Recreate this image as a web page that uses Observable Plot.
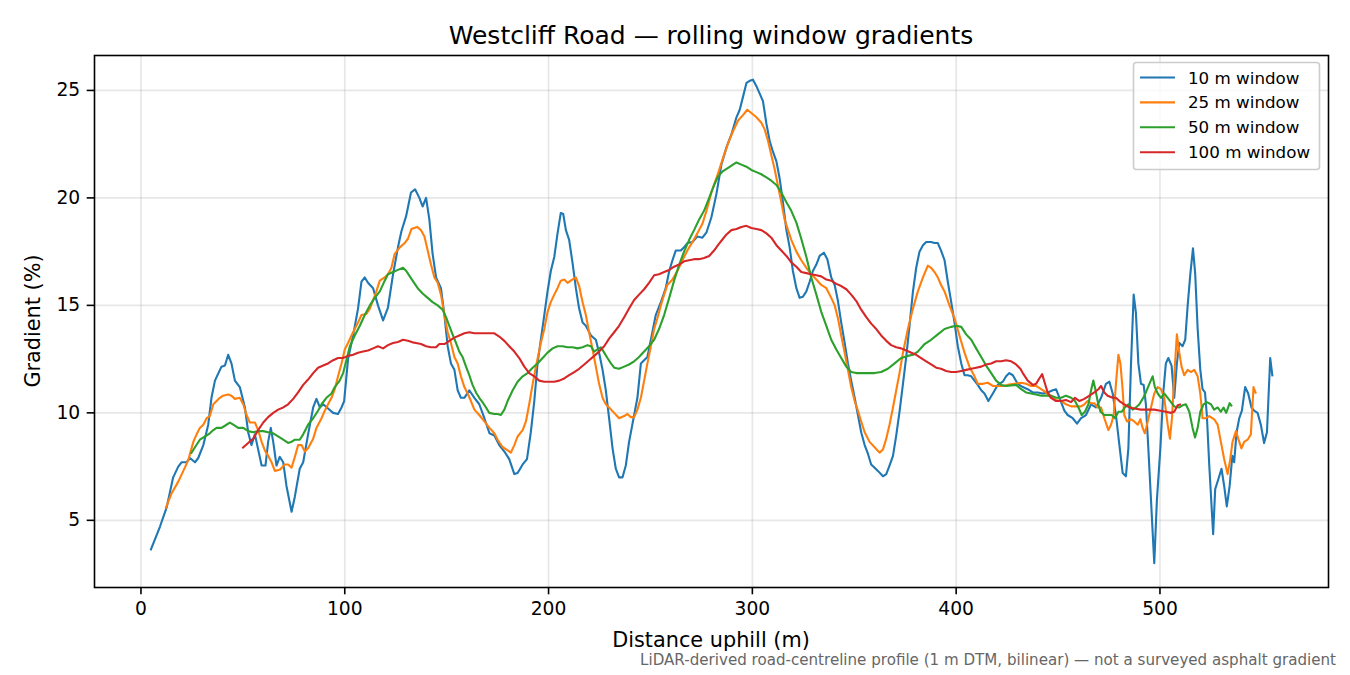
<!DOCTYPE html>
<html>
<head>
<meta charset="utf-8">
<script src="https://cdn.jsdelivr.net/npm/d3@7"></script>
<script src="https://cdn.jsdelivr.net/npm/@observablehq/plot@0.6"></script>
<style>
  body { margin: 0; background: #ffffff; }
  #chart { position: relative; width: 1350px; height: 675px; }
</style>
</head>
<body>
<div id="chart"></div>
<script>
// ---- data: [distance uphill (m), gradient (%)] ----
const win10 = [[4.7,3.6],[9.3,4.7],[12.6,5.6],[15.8,7.0],[18.3,7.5],[19.9,7.7],[22.4,7.7],[24,7.9],[26.5,7.7],[28.1,7.9],[30.6,8.5],[33,9.45],[34.6,10.7],[36.3,11.5],[39.5,12.15],[41.2,12.2],[42.8,12.7],[44.4,12.3],[46.1,11.5],[48.5,11.2],[51,10.25],[52.6,9.1],[54.2,8.5],[55.9,9.0],[57.5,8.3],[59.2,7.55],[61.1,7.55],[62.4,8.65],[63.7,9.3],[64.9,8.65],[66.5,7.55],[68.1,7.95],[69.8,7.7],[71.4,6.6],[73.9,5.4],[75.5,6.1],[77.9,7.4],[79.6,7.7],[82,9.0],[84.5,10.25],[86.1,10.65],[87.8,10.25],[89.4,10.4],[91.8,10.2],[94.3,10.0],[96.7,9.95],[98.4,10.25],[99.7,10.55],[101.6,12.5],[104.1,13.6],[106.5,14.85],[108.2,16.1],[109.8,16.3],[111.4,16.05],[113.9,15.8],[116.3,15.0],[118.8,14.3],[121.2,14.9],[123.7,16.45],[126.1,17.7],[127.8,18.45],[130.1,19.15],[132.5,20.25],[134.5,20.4],[136.6,20.0],[138.2,19.6],[139.9,20.0],[141.5,19.0],[143.1,17.4],[144.8,16.3],[147.2,15.8],[148.9,14.55],[150.5,13.1],[152.1,12.3],[153.8,12.0],[155.4,11.05],[157,10.7],[158.7,10.7],[161.1,11.05],[163.6,10.7],[166,10.4],[168.5,9.75],[171,9.05],[173.4,8.95],[175.8,8.5],[178.3,8.2],[180.7,7.85],[183.2,7.15],[184.8,7.2],[187.3,7.6],[189.4,7.85],[191.3,9.1],[193,10.55],[194.6,12.3],[196.2,13.4],[197.9,14.55],[199.5,15.65],[201.1,16.6],[202.8,17.25],[204.4,18.35],[206,19.3],[207.2,19.25],[208.5,18.5],[210.1,18.05],[211.8,16.95],[213.4,15.8],[215,14.85],[216.7,14.2],[218.3,14.05],[220.8,13.6],[223.2,13.4],[224.8,12.8],[226.5,12.0],[228.1,11.05],[229.7,9.75],[231.4,8.35],[233,7.4],[234.6,7.0],[236.3,7.0],[237.9,7.55],[239.5,8.65],[242,9.9],[243.6,10.7],[245.3,12.3],[246.9,12.45],[248.5,12.6],[250.2,13.4],[252.6,14.55],[255.1,15.15],[257.5,15.8],[259.2,16.6],[260.8,17.1],[262.4,17.55],[264.9,17.55],[266.5,17.7],[268.1,17.9],[270.6,17.95],[273,18.2],[275.5,18.15],[277.5,18.4],[279.9,19.1],[282.4,20.2],[284.8,21.55],[287.3,22.35],[289.7,22.95],[292.2,23.75],[293.8,24.1],[295.4,24.7],[297.1,25.35],[298.7,25.45],[300.3,25.5],[302,25.2],[303.6,24.85],[305.2,24.5],[306.9,23.45],[308.5,22.65],[310.1,22.15],[311.8,21.7],[313.4,20.9],[315,19.8],[316.7,18.5],[318.3,17.7],[319.9,16.6],[321.6,15.8],[323.2,15.35],[324.8,15.4],[326.5,15.65],[328.1,16.1],[329.7,16.6],[331.4,16.9],[333,17.3],[335.1,17.45],[336.8,17.15],[338.7,16.3],[340.4,15.95],[342,15.2],[343.6,14.2],[345.3,13.25],[346.9,12.3],[348.5,11.5],[350.2,10.7],[351.8,9.9],[353.4,9.1],[355.1,8.5],[356.7,8.1],[358.3,7.6],[360,7.45],[361.6,7.3],[364.1,7.05],[365.7,7.15],[367.3,7.55],[369,8.0],[370.6,8.95],[372.2,10.05],[373.9,11.35],[375.5,12.6],[377.1,14.05],[378.8,15.65],[380.4,16.75],[382,17.5],[383.7,17.8],[385.3,17.95],[387.7,17.95],[389.4,17.9],[391,17.9],[392.6,17.55],[394.3,17.1],[395.9,16.1],[397.5,15.2],[399.2,14.2],[400.8,13.1],[402.5,12.3],[404.1,11.75],[405.7,11.75],[407.4,11.7],[409,11.5],[410.6,11.3],[412.3,11.05],[413.9,10.9],[415.8,10.55],[418,10.9],[420.4,11.3],[422.9,11.45],[424.5,11.7],[426.1,11.85],[427.8,11.75],[430.2,11.35],[432.7,11.2],[435.1,11.1],[437.6,10.95],[440,10.95],[442.5,10.9],[444.9,10.95],[447.4,11.05],[449,11.1],[450.7,10.7],[453.1,10.1],[454.7,9.9],[457.2,9.75],[459.3,9.5],[461.3,9.75],[463.7,9.9],[466.2,10.4],[468.6,10.25],[471.1,10.7],[473.5,11.35],[475.2,11.45],[476.8,10.9],[478.4,9.9],[480.1,8.5],[481.7,7.2],[483.3,7.05],[484.5,8.35],[485.8,12.3],[487.1,15.5],[488.2,14.65],[489.4,12.3],[490.7,11.35],[492,11.3],[493.1,10.4],[494.3,8.35],[495.6,5.95],[497.2,3.0],[498.5,5.95],[500.2,8.35],[501.6,10.9],[502.9,12.3],[504.1,12.55],[505.7,12.2],[507,10.7],[508.3,12.3],[509.5,13.25],[511.1,13.1],[512.4,13.4],[513.6,15.0],[514.9,16.45],[516.2,17.65],[517.3,16.45],[518.5,13.9],[519.8,12.0],[520.9,11.1],[522.1,10.95],[523,9.9],[524.2,7.55],[526.1,4.35],[527.1,6.45],[528.6,6.9],[530.2,7.4],[531.5,6.6],[532.8,5.65],[534.2,6.6],[535.5,8.0],[536.4,7.7],[537.6,9.1],[538.9,9.75],[540.2,10.1],[541.8,11.2],[543.3,10.9],[544.9,10.25],[546.2,10.1],[547.9,10.0],[549.5,9.45],[551.1,8.6],[552.5,9.1],[554.1,12.55],[555.2,11.7]];

const win25 = [[12.1,5.55],[15,6.25],[18.3,6.8],[20.8,7.3],[23.2,7.8],[25.7,8.65],[27.3,9.0],[28.9,9.3],[30.6,9.45],[32.2,9.75],[33.8,9.85],[35.5,10.4],[37.1,10.55],[38.7,10.7],[40.3,10.8],[42.8,10.85],[44.4,10.8],[46.1,10.65],[48.5,10.7],[50.2,10.4],[51.8,9.9],[53.4,9.55],[55.9,9.55],[57.5,9.2],[59.2,8.65],[60.8,8.25],[62.4,8.0],[64.1,7.7],[65.7,7.3],[68.1,7.35],[70.6,7.6],[72.2,7.6],[73.9,7.45],[75.5,7.95],[77.1,8.5],[78.8,8.5],[80.4,8.2],[82,8.35],[84.5,8.8],[86.1,9.3],[88.6,9.75],[90.2,10.1],[91.8,10.4],[93.5,10.7],[95.1,11.1],[96.7,11.7],[98.4,12.3],[100,12.95],[101.6,13.25],[103.3,13.6],[104.9,13.9],[106.5,14.2],[108.2,14.55],[110.6,14.6],[112.3,14.85],[113.9,15.25],[115.5,15.65],[117.2,16.15],[119.6,16.3],[121.2,16.45],[122.9,16.75],[124.5,17.4],[127,17.7],[129.4,17.9],[131,18.1],[132.7,18.55],[135.5,18.65],[137.4,18.5],[139.1,18.2],[140.7,17.55],[142.3,16.9],[144,16.3],[145.6,16.05],[147.2,15.5],[148.9,14.55],[150.5,13.75],[152.1,13.25],[153.8,12.6],[155.4,12.3],[157,11.7],[158.7,11.2],[160.3,10.9],[161.9,10.55],[163.6,10.15],[166,9.9],[168.5,9.6],[171,9.3],[173.4,9.05],[175,8.75],[177.5,8.4],[180,8.25],[181.5,8.15],[183.2,8.5],[184.8,8.9],[187.3,9.2],[188.9,9.6],[190.5,10.4],[192.2,11.35],[193.8,12.15],[196.2,13.25],[197.9,13.9],[199.5,14.7],[201.1,15.15],[202.8,15.5],[204.4,15.8],[206,16.15],[207.7,16.2],[209.3,16.05],[210.9,16.15],[213.4,16.3],[215,15.9],[216.7,15.15],[218.3,14.55],[219.9,13.75],[221.6,12.95],[223.2,12.15],[224.8,11.35],[226.5,10.7],[228.1,10.4],[229.7,10.25],[232.2,10.0],[234.6,9.75],[237.1,9.85],[238.7,9.95],[240.4,9.8],[242,9.8],[243.6,10.15],[245.3,10.7],[246.9,11.5],[248.5,12.3],[250.2,13.1],[251.8,13.9],[253.4,14.4],[255.1,15.0],[256.7,15.5],[258.3,15.95],[260.8,16.2],[263.2,16.6],[265.7,17.1],[268.1,17.55],[270.6,17.95],[273,18.35],[275.5,18.8],[277.5,19.4],[279.9,20.25],[283.2,21.15],[285.6,21.85],[288.1,22.55],[290.5,23.1],[293,23.6],[295.4,23.85],[297.5,24.1],[299.5,23.95],[302,23.75],[304.4,23.5],[306,23.2],[307.7,22.65],[309.3,22.0],[310.9,21.35],[312.6,20.55],[314.2,19.8],[315.8,19.0],[317.5,18.5],[319.1,18.05],[321.6,17.5],[324,17.1],[326.5,16.75],[328.9,16.45],[331.4,16.2],[333.8,15.95],[336.3,15.8],[338.7,15.35],[340.4,15.0],[342,14.4],[343.6,13.6],[345.3,12.8],[346.9,12.0],[348.5,11.2],[350.2,10.55],[351.8,10.1],[353.4,9.6],[355.1,9.1],[357.5,8.65],[360,8.4],[362.4,8.15],[364.1,8.3],[365.7,8.8],[367.3,9.45],[369,10.25],[370.6,11.05],[372.2,11.85],[373.9,12.8],[376.3,13.9],[378.8,14.85],[381.2,15.65],[383.7,16.3],[386.1,16.85],[387.7,16.75],[389.4,16.55],[391,16.3],[392.6,15.95],[394.3,15.65],[396.7,15.0],[399.2,14.4],[401.6,13.6],[404.1,12.8],[406.5,12.15],[409,11.7],[410.6,11.35],[413.1,11.35],[415.5,11.4],[418,11.25],[420.4,11.25],[422.9,11.25],[425.3,11.3],[428.6,11.35],[431.9,11.4],[434.3,11.35],[436.8,11.25],[439.2,11.25],[441.7,11.1],[444.1,10.95],[446.6,10.7],[449,10.6],[451.5,10.55],[453.9,10.4],[456.4,10.3],[458.8,10.3],[461.3,10.3],[462.9,10.4],[464.5,10.55],[466.2,10.45],[467.8,10.45],[469.4,10.25],[471.1,10.25],[472.7,9.75],[474.7,9.2],[476,9.45],[477.3,9.9],[478.4,11.35],[479.6,12.7],[480.6,12.3],[481.7,11.05],[482.5,9.9],[483.8,9.6],[485.8,9.7],[487.4,9.6],[489.1,9.45],[490.4,9.7],[491.5,9.3],[492.6,9.05],[494,9.6],[495.6,10.25],[497.2,10.9],[498.9,11.2],[500.5,11.1],[502.1,10.7],[503.8,9.45],[504.9,8.8],[505.9,9.75],[507,11.7],[508.3,13.65],[509.5,12.8],[510.6,12.15],[511.9,11.75],[513.6,12.0],[515.2,11.9],[516.8,12.0],[518.5,11.7],[519.8,10.9],[520.9,9.75],[522.5,9.75],[524.2,9.85],[526.6,9.7],[528.3,9.45],[529.9,8.65],[531.5,7.85],[533.2,7.15],[534.5,7.85],[535.6,8.65],[537.3,9.15],[538.4,8.8],[540,8.35],[541.3,8.65],[543,8.75],[544.6,9.0],[545.9,11.2],[547.1,10.9]];

const win50 = [[24.5,8.1],[26.5,8.4],[28.9,8.75],[31.4,8.9],[33.8,9.05],[35.5,9.2],[37.1,9.3],[39.5,9.3],[41.2,9.4],[43.6,9.55],[45.3,9.45],[47.7,9.3],[50.2,9.3],[52.6,9.15],[55.1,9.1],[57.5,9.15],[60,9.15],[62.4,9.1],[64.9,9.05],[67.3,8.9],[69.8,8.75],[72.2,8.6],[73.9,8.65],[75.5,8.75],[77.9,8.75],[79.6,9.0],[82,9.45],[84.5,9.75],[86.9,10.1],[88.6,10.4],[91,10.7],[93.5,10.9],[95.1,11.2],[97.5,11.5],[99.2,11.85],[100.8,12.45],[102.5,13.1],[104.9,13.6],[107.4,14.05],[109.8,14.55],[112.3,15.0],[114.7,15.35],[117.2,15.65],[119.6,16.15],[121.2,16.45],[123.7,16.55],[126.1,16.65],[128.6,16.75],[130.2,16.6],[131.9,16.35],[133.3,16.15],[135.8,15.8],[138.2,15.55],[140.7,15.35],[143.1,15.15],[145.6,15.0],[148,14.8],[149.7,14.45],[151.3,14.05],[152.9,13.65],[154.6,13.25],[156.2,12.85],[157.8,12.6],[159.5,12.15],[161.1,11.75],[162.7,11.3],[164.4,10.95],[166,10.7],[167.6,10.5],[169.3,10.25],[170.9,10.0],[173.4,9.95],[175,9.95],[176.6,9.9],[178.3,10.15],[179.9,10.55],[182.4,11.05],[184.8,11.45],[187.3,11.7],[189.7,11.85],[192.2,12.1],[194.6,12.3],[197.1,12.55],[199.5,12.8],[202,13.0],[204.4,13.1],[206.9,13.1],[209.3,13.05],[211.8,13.05],[214.2,13.0],[216.7,13.05],[219.1,13.15],[220.8,13.1],[222.4,12.85],[224,12.95],[225.7,13.05],[227.3,12.8],[228.9,12.55],[230.6,12.3],[232.2,12.1],[234.6,12.05],[237.1,12.15],[239.5,12.25],[242,12.4],[244.4,12.6],[246.9,12.85],[249.3,13.1],[251.8,13.4],[254.2,13.9],[256.7,14.55],[259.2,15.35],[261.6,16.15],[264.1,16.9],[266.5,17.5],[269,18.05],[271.4,18.5],[273.9,19.0],[276.3,19.4],[278.8,20.0],[281.2,20.6],[283.2,21.0],[285.6,21.25],[288.1,21.4],[290.5,21.55],[292.2,21.65],[294.6,21.55],[297.1,21.45],[299.5,21.3],[302,21.2],[304.4,21.1],[306.9,20.95],[309.3,20.8],[311.8,20.6],[314.2,20.25],[316.7,19.8],[319.1,19.4],[321.6,18.85],[324,18.1],[326.5,17.25],[328.9,16.3],[331.4,15.5],[333.8,14.7],[336.3,14.05],[338.7,13.4],[341.2,12.95],[343.6,12.55],[346.1,12.15],[348.5,11.9],[351,11.85],[353.4,11.85],[356.7,11.85],[360,11.85],[363.2,11.9],[366.5,12.05],[369.8,12.3],[373,12.55],[376.3,12.65],[378.8,12.7],[381.2,12.85],[384.5,13.2],[387.7,13.4],[391,13.65],[394.3,13.9],[397.5,14.0],[400,14.05],[402.5,14.0],[404.9,13.65],[407.4,13.4],[409.8,13.0],[412.3,12.6],[414.7,12.2],[417.2,11.85],[419.6,11.5],[422.1,11.3],[424.5,11.25],[427,11.28],[429.4,11.3],[431.9,11.1],[434.3,10.95],[436.8,10.9],[439.2,10.85],[441.7,10.8],[444.1,10.8],[446.6,10.8],[449,10.7],[451.5,10.7],[453.9,10.8],[456.4,10.7],[458.3,10.55],[460,10.25],[461.6,9.9],[463.2,10.05],[464.9,10.4],[466.2,11.05],[467.3,11.5],[468.3,11.1],[469.4,10.55],[470.8,10.05],[472.7,9.9],[474.7,9.9],[476.3,9.9],[477.9,9.75],[479.6,10.05],[481.2,10.05],[482.8,10.25],[484.5,10.4],[486.6,10.15],[488.2,10.25],[489.9,10.4],[491.5,10.65],[493.1,10.95],[494.8,11.35],[496.4,11.7],[497.5,11.2],[498.9,10.9],[500.5,10.7],[502.1,10.9],[503.8,10.7],[505.4,10.5],[507,10.3],[509.5,10.25],[511.1,10.35],[512.7,10.4],[514.4,10.05],[516,9.3],[517.2,8.85],[518.5,9.3],[519.8,10.05],[521.4,10.4],[523,10.5],[525,10.4],[526.6,10.15],[528.3,10.25],[529.9,10.05],[531.2,10.25],[532.5,10.0],[534.2,10.45],[535.3,10.3]];

const win100 = [[49.7,8.35],[52.6,8.6],[55.1,8.8],[57.5,9.2],[60,9.55],[62.4,9.8],[64.9,10.0],[67.3,10.15],[69.8,10.25],[72.2,10.4],[74.7,10.65],[77.1,10.95],[79.6,11.3],[82,11.55],[84.5,11.85],[86.9,12.1],[89.4,12.2],[91.8,12.3],[94.3,12.45],[96.7,12.55],[99.2,12.55],[101.6,12.65],[104.1,12.7],[106.5,12.8],[109,12.85],[111.4,12.9],[113.9,13.0],[116.3,13.1],[118.8,13.0],[121.2,13.15],[123.7,13.25],[126.1,13.3],[128.6,13.4],[131,13.35],[133.3,13.28],[135,13.25],[137.4,13.2],[139.9,13.1],[142.3,13.05],[144.8,13.05],[146.4,13.2],[148.9,13.2],[151.3,13.35],[153.8,13.5],[156.2,13.6],[158.7,13.7],[161.1,13.75],[163.6,13.7],[166,13.7],[168.5,13.7],[171,13.7],[173.4,13.7],[175.8,13.55],[178.3,13.35],[180.7,13.1],[183.2,12.85],[185.6,12.55],[188.1,12.15],[190.5,11.85],[193,11.7],[195.4,11.5],[197.9,11.45],[200.3,11.45],[202.8,11.45],[205.2,11.5],[207.7,11.6],[210.1,11.75],[212.6,11.9],[215,12.05],[217.5,12.25],[219.9,12.45],[222.4,12.65],[224.8,12.85],[227.3,13.1],[229.7,13.45],[232.2,13.75],[234.6,14.05],[237.1,14.45],[239.5,14.85],[242,15.25],[244.4,15.5],[246.9,15.75],[249.3,16.05],[251.8,16.4],[254.2,16.45],[256.7,16.55],[259.2,16.65],[261.6,16.8],[264.1,16.9],[266.5,17.05],[269,17.1],[271.4,17.15],[273.9,17.15],[276.3,17.2],[278.8,17.3],[281.2,17.55],[283.5,17.85],[285.6,18.1],[287.3,18.3],[289.7,18.5],[292.2,18.55],[294.6,18.65],[297.1,18.7],[299.5,18.6],[302,18.55],[304.4,18.5],[306.9,18.35],[309.3,18.15],[311.8,17.8],[314.2,17.55],[316.7,17.3],[319.1,17.0],[321.6,16.8],[324,16.55],[326.5,16.5],[328.9,16.45],[331.4,16.4],[333.8,16.35],[336.3,16.2],[338.7,16.15],[341.2,16.0],[343.6,15.9],[346.1,15.75],[348.5,15.5],[351,15.2],[353.4,14.8],[355.9,14.45],[358.3,14.15],[360.8,13.9],[363.2,13.6],[365.7,13.35],[368.1,13.15],[370.6,13.05],[373,13.0],[375.5,12.9],[378,12.8],[380.4,12.7],[382.8,12.55],[385.3,12.4],[387.7,12.25],[390.2,12.1],[392.6,12.05],[395.1,11.95],[397.5,11.9],[400,11.9],[402.5,11.95],[404.9,12.0],[407.4,12.05],[409.8,12.1],[412.3,12.15],[414.7,12.25],[417.2,12.3],[419.6,12.4],[422.1,12.4],[424.5,12.45],[427,12.4],[429.4,12.25],[431.5,12.05],[432.7,11.85],[435.1,11.5],[437.6,11.3],[439.2,11.35],[440.8,11.6],[442.2,11.8],[443.3,11.45],[444.9,10.95],[446.6,10.7],[449,10.55],[451.5,10.55],[453.9,10.6],[456.4,10.5],[458.3,10.7],[460.5,10.55],[462.9,10.65],[465.4,10.8],[467.8,10.95],[469.8,11.1],[471.1,11.25],[472.7,10.95],[474.3,10.8],[476.8,10.7],[478.4,10.7],[480.1,10.55],[482.5,10.4],[485,10.25],[487.4,10.2],[490.7,10.15],[494,10.15],[497.2,10.15],[500.2,10.1],[502.9,10.05],[505.4,10.0],[507,10.05],[508.7,10.35],[510.3,10.4]];

const seriesNames = ["10 m window", "25 m window", "50 m window", "100 m window"];
const seriesColors = ["#1f77b4", "#ff7f0e", "#2ca02c", "#d62728"];
const xTicks = [0, 100, 200, 300, 400, 500];
const yTicks = [5, 10, 15, 20, 25];

const titleText = "Westcliff Road \u2014 rolling window gradients";
const xLabelText = "Distance uphill (m)";
const yLabelText = "Gradient (%)";
const captionText = "LiDAR-derived road-centreline profile (1 m DTM, bilinear) \u2014 not a surveyed asphalt gradient";

// ---- build table ----
const rows = [];
[win10, win25, win50, win100].forEach((arr, i) => {
  arr.forEach(([d, g]) => rows.push({series: seriesNames[i], d, g}));
});

const W = 1350, H = 675;
const mL = 94, mR = 22, mT = 55, mB = 88;
const FONT = "DejaVu Sans, Liberation Sans, sans-serif";

const plot = Plot.plot({
  width: W,
  height: H,
  marginLeft: mL,
  marginRight: mR,
  marginTop: mT,
  marginBottom: mB,
  style: {fontFamily: FONT, fontSize: "18.7px", color: "#000", background: "#fff", overflow: "visible"},
  x: {domain: [-22.8, 582.7]},
  y: {domain: [1.875, 26.625]},
  color: {domain: seriesNames, range: seriesColors},
  marks: [
    Plot.gridX(xTicks, {stroke: "#b0b0b0", strokeOpacity: 0.3, strokeWidth: 1.67}),
    Plot.gridY(yTicks, {stroke: "#b0b0b0", strokeOpacity: 0.3, strokeWidth: 1.67}),
    Plot.line(rows, {x: "d", y: "g", z: "series", stroke: "series", strokeWidth: 2.1, strokeLinejoin: "round", strokeLinecap: "butt"}),
    Plot.frame({stroke: "#000", strokeWidth: 1.6}),
    Plot.axisX(xTicks, {tickSize: 7.3, tickPadding: 7, strokeWidth: 1.6, label: null}),
    Plot.axisY(yTicks, {tickSize: 7.3, tickPadding: 7, strokeWidth: 1.6, label: null})
  ]
});

document.getElementById("chart").appendChild(plot);

// ---- titles, labels, caption, legend as real text ----
const svg = d3.select(plot);
const cx = mL + (W - mL - mR) / 2;
const cy = mT + (H - mT - mB) / 2;

svg.append("text")
  .attr("x", cx).attr("y", 44)
  .attr("text-anchor", "middle")
  .style("font-family", FONT).style("font-size", "25px").attr("fill", "#000")
  .text(titleText);

svg.append("text")
  .attr("x", cx).attr("y", 647)
  .attr("text-anchor", "middle")
  .style("font-family", FONT).style("font-size", "20.8px").attr("fill", "#000")
  .text(xLabelText);

svg.append("text")
  .attr("transform", `translate(40,${cy}) rotate(-90)`)
  .attr("text-anchor", "middle")
  .style("font-family", FONT).style("font-size", "20.8px").attr("fill", "#000")
  .text(yLabelText);

svg.append("text")
  .attr("x", 1336).attr("y", 665)
  .attr("text-anchor", "end")
  .style("font-family", FONT).style("font-size", "15.1px").attr("fill", "#666")
  .text(captionText);

const lg = svg.append("g");
lg.append("rect")
  .attr("x", 1133.5).attr("y", 62.5).attr("width", 186).attr("height", 107)
  .attr("rx", 3).attr("ry", 3)
  .attr("fill", "#fff").attr("fill-opacity", 0.8)
  .attr("stroke", "#cccccc").attr("stroke-width", 1.6);
seriesNames.forEach((name, i) => {
  const ry = 77.5 + i * 24.9;
  lg.append("line")
    .attr("x1", 1140).attr("x2", 1175).attr("y1", ry).attr("y2", ry)
    .attr("stroke", seriesColors[i]).attr("stroke-width", 2.1);
  lg.append("text")
    .attr("x", 1188).attr("y", ry).attr("dy", "0.36em")
    .attr("text-anchor", "start")
    .style("text-anchor", "start")
    .style("font-family", FONT).style("font-size", "16.7px").attr("fill", "#000")
    .text(name);
});
</script>
</body>
</html>
